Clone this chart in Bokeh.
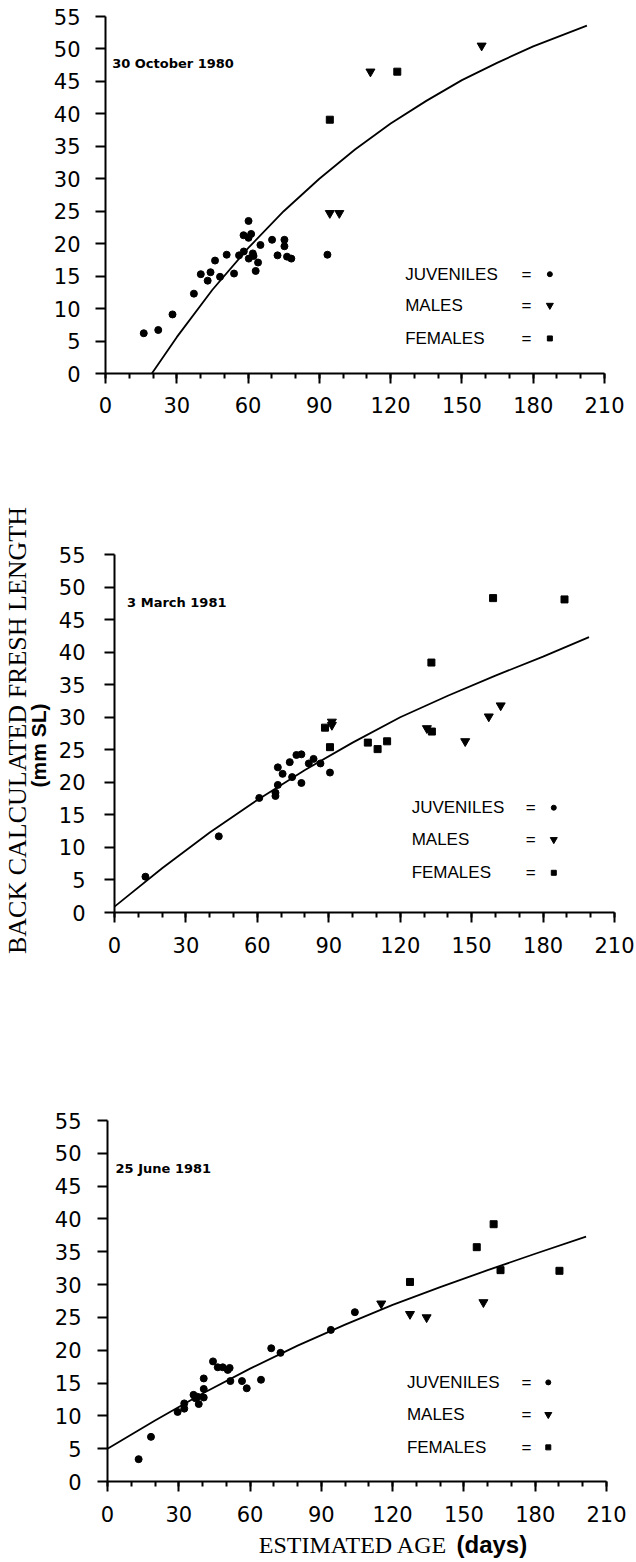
import math
from bokeh.plotting import figure
from bokeh.layouts import column, row
from bokeh.models import Label, FixedTicker, Range1d
from bokeh.embed import file_html
from bokeh.resources import INLINE

# ---------------- DATA ----------------
x_ticks = [0, 30, 60, 90, 120, 150, 180, 210]
x_minor = list(range(0, 211, 10))
y_ticks = [0, 5, 10, 15, 20, 25, 30, 35, 40, 45, 50, 55]

panel_dates = ["30 October 1980", "3 March 1981", "25 June 1981"]
legend_names = ["JUVENILES", "MALES", "FEMALES"]
y_title = "BACK CALCULATED FRESH LENGTH"
y_unit = "(mm SL)"
x_title = "ESTIMATED AGE"
x_unit = "(days)"

# Panel 1: 30 October 1980
juv_x_1 = [16.1, 22.2, 28.2, 37.2, 40.1, 43.0, 44.2, 46.1, 48.2, 51.0, 54.1, 56.2, 58.2, 58.1, 60.2,
           60.2, 61.3, 60.3, 62.0, 62.3, 64.2, 63.2, 65.2, 70.1, 72.4, 75.3, 75.3, 76.4, 78.2, 93.4]
juv_y_1 = [6.2, 6.7, 9.1, 12.3, 15.3, 14.3, 15.6, 17.4, 14.9, 18.3, 15.4, 18.2, 18.8, 21.3, 23.5,
           20.9, 21.5, 17.7, 18.5, 18.1, 17.1, 15.8, 19.8, 20.6, 18.2, 20.6, 19.6, 18.0, 17.7, 18.3]
male_x_1 = [94.4, 98.4, 111.5, 158.3]
male_y_1 = [24.7, 24.7, 46.5, 50.5]
fem_x_1 = [94.4, 122.8]
fem_y_1 = [39.1, 46.5]
curve_x_1 = [19.5, 30, 45, 60, 75, 90, 105, 120, 135, 150, 165, 180, 202.6]
curve_y_1 = [0.0, 5.6, 12.9, 19.3, 25.0, 30.0, 34.5, 38.5, 42.0, 45.2, 47.9, 50.4, 53.6]

# Panel 2: 3 March 1981
juv_x_2 = [13.0, 43.8, 60.8, 67.6, 67.6, 68.6, 68.6, 70.6, 73.6, 74.6, 76.4, 78.5, 78.5, 81.6, 83.6, 86.5, 90.5]
juv_y_2 = [5.5, 11.7, 17.6, 18.4, 17.9, 22.3, 19.6, 21.3, 23.1, 20.8, 24.2, 24.3, 19.9, 22.9, 23.6, 22.9, 21.5]
male_x_2 = [91.3, 91.3, 131.2, 147.3, 157.2, 162.2]
male_y_2 = [29.3, 28.8, 28.3, 26.3, 30.1, 31.8]
fem_x_2 = [88.4, 90.5, 106.4, 110.5, 114.5, 133.1, 133.3, 159.0, 189.0]
fem_y_2 = [28.4, 25.4, 26.1, 25.1, 26.3, 38.4, 27.8, 48.3, 48.1]
curve_x_2 = [0, 20, 40, 60, 80, 100, 120, 140, 160, 180, 199.3]
curve_y_2 = [0.9, 6.8, 12.3, 17.3, 21.9, 26.1, 30.0, 33.3, 36.4, 39.3, 42.3]

# Panel 3: 25 June 1981
juv_x_3 = [13.1, 18.3, 29.5, 32.3, 32.3, 36.2, 37.0, 37.9, 38.4, 40.5, 40.5, 40.5, 44.4, 46.4, 48.5,
           50.6, 51.4, 51.7, 56.6, 58.6, 64.6, 68.9, 72.8, 94.0, 104.1]
juv_y_3 = [3.4, 6.8, 10.6, 11.9, 11.1, 13.2, 12.7, 12.9, 11.8, 12.8, 14.1, 15.7, 18.3, 17.4, 17.4,
           17.0, 17.3, 15.3, 15.3, 14.2, 15.5, 20.3, 19.6, 23.1, 25.8]
male_x_3 = [115.2, 127.3, 134.3, 158.2]
male_y_3 = [27.1, 25.5, 25.0, 27.3]
fem_x_3 = [127.3, 155.4, 162.5, 165.4, 190.2]
fem_y_3 = [30.4, 35.7, 39.2, 32.2, 32.1]
curve_x_3 = [0, 20, 40, 60, 80, 100, 120, 140, 160, 180, 201.4]
curve_y_3 = [5.0, 9.3, 13.4, 17.2, 20.7, 23.9, 26.9, 29.6, 32.2, 34.7, 37.3]

# ---------------- STYLE ----------------
TICK_FONT = "DejaVu Sans"
SERIF = "Liberation Serif"
SANS = "Liberation Sans"


def make_panel(width, height, left, right, top, bottom, y_standoff, x_standoff,
               juv, male, fem, curve, date, date_x, legend_x, eq_x, mark_x, legend_y):
    p = figure(width=width, height=height, x_range=Range1d(0, 210), y_range=Range1d(0, 55),
               output_backend="svg", toolbar_location=None, frame_align=False,
               title_location=None,
               min_border_left=left, min_border_right=right,
               min_border_top=top, min_border_bottom=bottom)
    p.outline_line_color = None
    p.background_fill_color = "white"
    p.border_fill_color = "white"
    p.xgrid.visible = False
    p.ygrid.visible = False

    p.xaxis.ticker = FixedTicker(ticks=x_ticks, minor_ticks=x_minor)
    p.yaxis.ticker = FixedTicker(ticks=y_ticks)
    for ax in (p.xaxis[0], p.yaxis[0]):
        ax.axis_line_width = 2
        ax.axis_line_color = "black"
        ax.major_tick_line_width = 2
        ax.major_tick_line_color = "black"
        ax.major_tick_in = 0
        ax.major_tick_out = 10
        ax.minor_tick_line_width = 2
        ax.minor_tick_line_color = "black"
        ax.minor_tick_in = 0
        ax.minor_tick_out = 5
        ax.major_label_text_font = TICK_FONT
        ax.major_label_text_font_size = "21px"
        ax.major_label_text_color = "black"
    p.yaxis.minor_tick_line_color = None
    p.yaxis.major_label_standoff = y_standoff
    p.xaxis.major_label_standoff = x_standoff

    p.line(curve[0], curve[1], line_width=1.8, line_color="black")
    p.scatter(juv[0], juv[1], marker="circle", size=7, color="black")
    p.scatter(male[0], male[1], marker="inverted_triangle", size=9, color="black")
    p.scatter(fem[0], fem[1], marker="square", size=7, color="black")

    p.add_layout(Label(x=date_x, y=47.7, text=date, text_font="DejaVu Sans",
                       text_font_style="bold", text_font_size="13px",
                       text_baseline="middle", text_color="black"))

    markers = ["circle", "inverted_triangle", "square"]
    msizes = [5, 7, 5]
    for i, name in enumerate(legend_names):
        ly = legend_y[i]
        p.add_layout(Label(x=legend_x, y=ly, text=name, text_font=SANS, text_font_size="17px",
                           text_baseline="middle", text_color="black"))
        p.add_layout(Label(x=eq_x, y=ly, text="=", text_font=SANS, text_font_size="17px",
                           text_baseline="middle", text_align="center", text_color="black"))
        p.scatter([mark_x], [ly], marker=markers[i], size=msizes[i], color="black")
    return p


def text_strip(width, height):
    f = figure(width=width, height=height, x_range=Range1d(0, width), y_range=Range1d(0, height),
               output_backend="svg", toolbar_location=None, x_axis_type=None, y_axis_type=None,
               frame_align=False, title_location=None,
               min_border=0, min_border_left=0, min_border_right=0,
               min_border_top=0, min_border_bottom=0)
    f.outline_line_color = None
    f.xgrid.visible = False
    f.ygrid.visible = False
    f.background_fill_color = "white"
    f.border_fill_color = "white"
    return f


# page has no margin: figure pixels are page pixels
p1 = make_panel(636, 500, 105, 32, 16, 127, 15, 13,
                (juv_x_1, juv_y_1), (male_x_1, male_y_1), (fem_x_1, fem_y_1),
                (curve_x_1, curve_y_1), panel_dates[0], 2.8,
                126.1, 177.2, 187.0, [15.3, 10.5, 5.4])

p2 = make_panel(584, 500, 62, 22, 54, 88, 19, 14,
                (juv_x_2, juv_y_2), (male_x_2, male_y_2), (fem_x_2, fem_y_2),
                (curve_x_2, curve_y_2), panel_dates[1], 5.3,
                124.8, 174.8, 184.5, [16.1, 11.2, 6.1])

ylab = text_strip(52, 500)
ylab.add_layout(Label(x=17, y=270, text=y_title, angle=math.pi / 2,
                      text_font=SERIF, text_font_size="26px", text_align="center",
                      text_baseline="middle", text_color="black"))
ylab.add_layout(Label(x=38, y=255, text=y_unit, angle=math.pi / 2,
                      text_font=SANS, text_font_style="bold", text_font_size="21px",
                      text_align="center", text_baseline="middle", text_color="black"))

p3 = make_panel(636, 529, 107, 30, 120, 48, 16, 14,
                (juv_x_3, juv_y_3), (male_x_3, male_y_3), (fem_x_3, fem_y_3),
                (curve_x_3, curve_y_3), panel_dates[2], 3.4,
                126.0, 176.3, 185.5, [15.1, 10.2, 5.2])

xlab = text_strip(636, 31)
xlab.add_layout(Label(x=447, y=16, text=x_title, text_font=SERIF,
                      text_font_size="24px", text_align="right", text_baseline="middle",
                      text_color="black"))
xlab.add_layout(Label(x=456, y=16, text=x_unit, text_font=SANS, text_font_style="bold",
                      text_font_size="24px", text_align="left", text_baseline="middle",
                      text_color="black"))

layout = column(p1, row(ylab, p2, spacing=0), p3, xlab, spacing=0)
open("out.html", "w").write(file_html(layout, INLINE))
